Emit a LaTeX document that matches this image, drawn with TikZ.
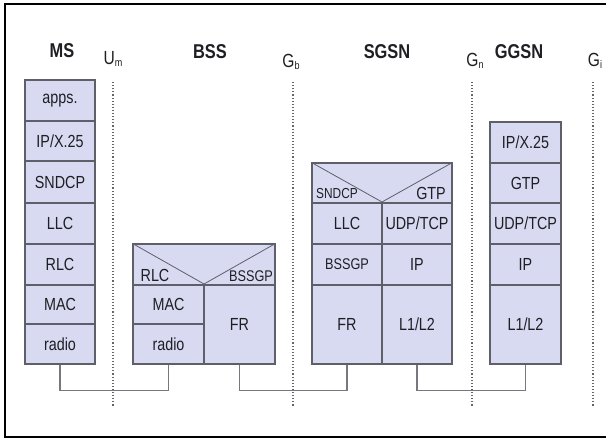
\documentclass[tikz,border=0pt]{standalone}
\usepackage{fontspec}
\setmainfont[FakeStretch=0.82]{Liberation Sans}
\definecolor{fillc}{RGB}{216,218,242}
\definecolor{linec}{RGB}{95,95,105}
\definecolor{txtc}{RGB}{30,30,35}
\definecolor{dotc}{RGB}{100,100,105}
\tikzset{
  cell/.style={draw=linec, fill=fillc, line width=1.1pt, inner sep=0pt, text=txtc,
    font=\fontsize{17.5}{18}\selectfont},
  hdr/.style={inner sep=0pt, text=txtc, font=\fontsize{20}{22}\bfseries\selectfont},
  iface/.style={inner sep=0pt, text=txtc, font=\fontsize{19}{20}\selectfont},
  sublab/.style={inner sep=0pt, text=txtc, font=\fontsize{17.5}{18}\selectfont},
  diag/.style={draw=linec, line width=0.8pt},
  refline/.style={draw=dotc, line width=1.1pt, dotted},
  link/.style={draw=linec!85, line width=1.1pt},
}
\newcommand{\mkcell}[7][]{%
  \node[cell,#1, minimum width={(#5-#3)*1pt}, minimum height={(#6-#4)*1pt}]
    (#2) at ({(#3+#5)/2},{(#4+#6)/2}) {#7};}
\newcommand{\gsub}[2]{#1{\fontsize{11}{11}\selectfont\raisebox{-1.5pt}{#2}}}
\begin{document}
\begin{tikzpicture}[x=1pt,y=-1pt]
\useasboundingbox (0,0) rectangle (606,439);
\clip (0,0) rectangle (606,439);
\fill[white] (0,0) rectangle (606,439);
\draw[line width=1.8pt, black] (5,4) rectangle (615,437);

% interface reference lines
\foreach \n/\x in {um/113, gb/293, gn/472, gi/593}{
  \coordinate (\n top) at (\x,82);
  \coordinate (\n bot) at (\x,406);
  \draw[refline] (\n top) -- (\n bot);
}
\node[iface] (lum) at (113,59) {\gsub{U}{m}};
\node[iface] (lgb) at (291,62) {\gsub{G}{b}};
\node[iface] (lgn) at (475,61) {\gsub{G}{n}};
\node[iface] (lgi) at (595,61) {\gsub{G}{i}};

% headers
\node[hdr] (hms) at (62,51) {MS};
\node[hdr] (hbss) at (210,52) {BSS};
\node[hdr] (hsgsn) at (387,52) {SGSN};
\node[hdr] (hggsn) at (519,52) {GGSN};

% MS stack
\mkcell{ms1}{25}{80}{95}{121}{apps.}
\mkcell{ms2}{25}{121}{95}{161}{IP/X.25}
\mkcell{ms3}{25}{161}{95}{203}{SNDCP}
\mkcell{ms4}{25}{203}{95}{244}{LLC}
\mkcell{ms5}{25}{244}{95}{285}{RLC}
\mkcell{ms6}{25}{285}{95}{324}{MAC}
\mkcell{ms7}{25}{324}{95}{364}{radio}

% BSS stack
\mkcell{bsshead}{133}{244}{275}{285}{}
\draw[diag] (bsshead.north west) -- (204,284) -- (bsshead.north east);
\node[sublab] (bssrlc) at (155,275) {RLC};
\node[sublab, font=\fontsize{15.5}{16}\selectfont] (bssbssgp) at (251,276) {BSSGP};
\mkcell{bssmac}{133}{285}{204}{324}{MAC}
\mkcell{bssradio}{133}{324}{204}{364}{radio}
\mkcell{bssfr}{204}{285}{275}{364}{FR}

% SGSN stack
\mkcell{sghead}{312}{163}{452}{203}{}
\draw[diag] (sghead.north west) -- (382,202) -- (sghead.north east);
\node[sublab, font=\fontsize{14.5}{15}\selectfont] (sgsndcp) at (337,194) {SNDCP};
\node[sublab] (sggtp) at (431,193) {GTP};
\mkcell{sgllc}{312}{203}{382}{244}{LLC}
\mkcell{sgudp}{382}{203}{452}{244}{UDP/TCP}
\mkcell[font=\fontsize{15.5}{16}\selectfont]{sgbssgp}{312}{244}{382}{285}{BSSGP}
\mkcell{sgip}{382}{244}{452}{285}{IP}
\mkcell{sgfr}{312}{285}{382}{364}{FR}
\mkcell{sgl1}{382}{285}{452}{364}{L1/L2}

% GGSN stack
\mkcell{gg1}{490}{122}{561}{163}{IP/X.25}
\mkcell{gg2}{490}{163}{561}{203}{GTP}
\mkcell{gg3}{490}{203}{561}{244}{UDP/TCP}
\mkcell{gg4}{490}{244}{561}{285}{IP}
\mkcell{gg5}{490}{285}{561}{364}{L1/L2}

% physical links
\draw[link] (ms7.south) -- ++(0,26) -| (bssradio.south);
\draw[link] (bssfr.south) -- ++(0,26) -| (sgfr.south);
\draw[link] (sgl1.south) -- ++(0,26) -| (gg5.south);
\end{tikzpicture}
\end{document}
